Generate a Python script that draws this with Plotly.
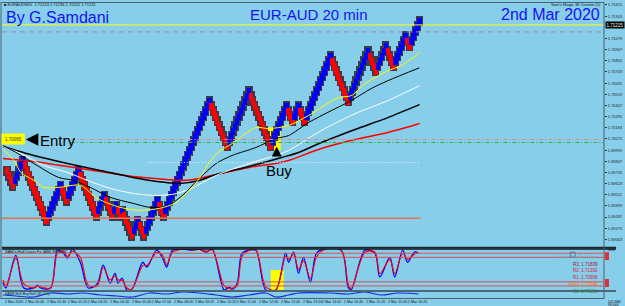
import plotly.graph_objects as go
import numpy as np

# ---------------- data ----------------
brick_size = 0.0005
start_close = 1.69825
# renko runs: signed number of bricks in each swing
runs = [-4, 5, -12, 7, -3, 6, -9, 4, -4, 2, -2, 1, -5, 3, -3, 7, -3, 23,
        -9, 11, -11, 8, -3, 3, -3, 13, -9, 10, -4, 5, -4, 6, -2, 5]
buy_run = 21          # run that ends at the Buy signal
current_price = 1.71215
upper_dash_price = 1.71145
entry_price = 1.70065
entry_green_price = 1.70035
dotted_price = 1.69835
support_price = 1.69275

ma_yellow_x = [-2, 3.5, 7, 13.5, 18.5, 26, 37, 45.5, 57, 67, 77, 84.5, 90.5, 97, 102, 107, 113.5, 125.5, 132, 142, 152, 167, 173.5, 180.5, 192, 198.5, 208]
ma_yellow_y = [1.69965, 1.69855, 1.69735, 1.69655, 1.69585, 1.69585, 1.69605, 1.69475, 1.69385, 1.69355, 1.69375, 1.69425, 1.69525, 1.69675, 1.69835, 1.69945, 1.70025, 1.70185, 1.70175, 1.70205, 1.70305, 1.70485, 1.70505, 1.70625, 1.70755, 1.70805, 1.70935]
ma_black1_x = [-2, 5.5, 13.5, 26, 33.5, 42, 52, 63.5, 72, 80.5, 88.5, 97, 105.5, 113.5, 125.5, 135.5, 142, 152, 163.5, 173.5, 183.5, 192, 208]
ma_black1_y = [1.70005, 1.69925, 1.69825, 1.69685, 1.69655, 1.69585, 1.69485, 1.69425, 1.69385, 1.69395, 1.69505, 1.69675, 1.69825, 1.69905, 1.69985, 1.70075, 1.70105, 1.70235, 1.70355, 1.70455, 1.70575, 1.70655, 1.70785]
ma_white_x = [-2, 7, 18.5, 30.5, 40.5, 52, 63.5, 73.5, 83.5, 92, 105.5, 122, 135.5, 142, 158.5, 175.5, 192, 208]
ma_white_y = [1.69995, 1.69925, 1.69805, 1.69735, 1.69655, 1.69575, 1.69525, 1.69505, 1.69515, 1.69565, 1.69705, 1.69825, 1.69905, 1.69955, 1.70155, 1.70325, 1.70455, 1.70605]
ma_black2_x = [-2, 13.5, 30.5, 47, 63.5, 75.5, 87, 97, 105.5, 122, 138.5, 147, 158.5, 175.5, 192, 208]
ma_black2_y = [1.69995, 1.69905, 1.69825, 1.69755, 1.69685, 1.69645, 1.69625, 1.69655, 1.69715, 1.69795, 1.69885, 1.69935, 1.70035, 1.70165, 1.70285, 1.70415]
ma_red_x = [-2, 13.5, 30.5, 47, 63.5, 80.5, 88.5, 97, 105.5, 122, 135.5, 142, 158.5, 175.5, 192, 208]
ma_red_y = [1.69875, 1.69845, 1.69795, 1.69745, 1.69695, 1.69665, 1.69655, 1.69675, 1.69715, 1.69785, 1.69825, 1.69855, 1.69975, 1.70065, 1.70135, 1.70225]

osc_x = [-2, -0.5, 4.5, 8.5, 13.5, 15.5, 17, 22, 25.5, 28.5, 30.5, 33, 37, 41, 45.5, 48.5, 52, 54.5, 56, 58, 60.5, 63,
         68.5, 70.5, 75.5, 78.5, 80.5, 83.5, 88.5, 93.5, 97, 100.5, 103.5, 109.5, 112, 113.5, 116, 118.5, 122, 125.5,
         130.5, 135.5, 140.5, 142, 144.5, 147, 149.5, 153, 156, 159.5, 168.5, 172, 173.5, 180.5, 185.5, 188, 193,
         195.5, 199.5, 202, 205.5, 207.5]
osc_blue = [19.5, 5, 85, 5, 5, 12, 5, 5, 97.5, 90, 78, 100, 68, 5, 15, 61, 17, 41, 17, 29, 0, 2,
            68, 56, 97.5, 78, 56, 97.5, 100, 97.5, 100, 93, 100, 0, 7, 2, 15, 90, 97.5, 97.5,
            0, 0, 90, 68, 93, 41, 80, 19.5, 90, 100, 97.5, 7, 0, 97.5, 90, 32, 80,
            32, 97.5, 68, 93, 90]
osc_red = [25, 10, 78, 15, 5, 9, 8, 5, 90, 95, 82, 95, 80, 12, 10, 55, 25, 35, 25, 24, 5, 2,
           60, 60, 92, 85, 62, 92, 100, 98, 99, 95, 98, 10, 4, 4, 10, 82, 97, 98,
           8, 0, 82, 75, 88, 50, 72, 28, 80, 98, 98, 15, 3, 92, 93, 40, 75,
           40, 90, 75, 88, 92]
osc_levels = [90, 80, 20, 10]

bottom_x = [-2, 4.5, 13.5, 22, 30.5, 38.5, 47, 55.5, 63.5, 72, 80.5, 88.5, 97, 105.5, 113.5, 122, 130.5, 135.5, 142,
            147, 163.5, 172, 180.5, 188.5, 197, 207.5]
bottom_y = [2, 1, 0, 4, 3, 4, 2, 1, 0, 4, 3, 5, 4, 2, 0, 2, 4, 0, 2, 4, 4, 3, 5, 2, 4, 3]

price_ticks = [1.71415, 1.71303, 1.71079, 1.70967, 1.70855, 1.70743, 1.70631, 1.70519, 1.70407,
               1.70295, 1.70183, 1.70071, 1.69959, 1.69847, 1.69735, 1.69623, 1.69511, 1.69399,
               1.69287, 1.69175, 1.69063]
date_pos = [-2, 8, 19, 30, 40, 51, 62, 72, 83, 94, 105, 115, 126, 137, 148, 158, 169, 180, 191, 201]
date_text = ["2 Mar 2020", "2 Mar 00:40", "2 Mar 01:40", "2 Mar 02:20", "2 Mar 03:20", "2 Mar 04:40",
             "2 Mar 05:40", "2 Mar 07:00", "2 Mar 08:00", "2 Mar 09:20", "2 Mar 10:20", "2 Mar 11:00",
             "2 Mar 12:00", "2 Mar 12:40", "2 Mar 13:20", "2 Mar 14:00", "2 Mar 14:40", "2 Mar 15:20",
             "2 Mar 15:40", "2 Mar 16:20"]
pivot_labels = ["R3: 1.71839", "R2: 1.71392", "R1: 1.70968", "Pivot: 1.70548", "S1: 1.70131"]
pivot_colors = ["#A0102A", "#DC143C", "#DC143C", "#FF6A00", "#2E8B57"]

# ---------------- build renko bricks ----------------
opens, closes = [], []
po, pc = start_close - brick_size, start_close
run_end = []
for r in runs:
    d = 1 if r > 0 else -1
    for _ in range(abs(r)):
        pdir = 1 if pc > po else -1
        o = pc if d == pdir else po
        c = o + d * brick_size
        opens.append(o)
        closes.append(c)
        po, pc = o, c
    run_end.append(len(opens) - 1)
opens = np.array(opens)
closes = np.array(closes)
idx = np.arange(len(opens))
lows = np.minimum(opens, closes)
body_colors = np.where(closes > opens, "#0000FF", "#FF0000")
buy_i = run_end[buy_run - 1]
buy_low = lows[buy_i]
last_i = idx[-1]

# ---------------- geometry helpers ----------------
W, H = 625, 306
ML, MR, MT, MB = 2, 16, 2, 8
PW, PH = W - ML - MR, H - MT - MB


def pxx(x):
    return (x - ML) / PW


def pxy(y):
    return (H - MB - y) / PH


BG = "#87CEEB"
FONT = "Liberation Sans, Arial, sans-serif"

fig = go.Figure()

# renko shadow + bodies
sh_ext = 0.5 * brick_size
bd_ext = 0.2 * brick_size
fig.add_trace(go.Bar(x=idx, y=[brick_size + 2 * sh_ext] * len(idx), base=lows - sh_ext, width=3.6,
                     marker=dict(color="#3a3c4c", line_width=0), xaxis="x", yaxis="y", hoverinfo="skip"))
fig.add_trace(go.Bar(x=idx, y=[brick_size + 2 * bd_ext] * len(idx), base=lows - bd_ext, width=2.3,
                     marker=dict(color=body_colors, line_width=0), xaxis="x", yaxis="y", hoverinfo="skip"))

# moving averages
for xs, ys, col, w in [(ma_red_x, ma_red_y, "#FF0000", 1.5), (ma_black2_x, ma_black2_y, "#000000", 1.5),
                       (ma_white_x, ma_white_y, "#FFFFFF", 1.0), (ma_black1_x, ma_black1_y, "#000000", 1.0),
                       (ma_yellow_x, ma_yellow_y, "#FFFF00", 1.0)]:
    fig.add_trace(go.Scatter(x=xs, y=ys, mode="lines", line=dict(color=col, width=w, shape="spline", smoothing=0.8),
                             xaxis="x", yaxis="y", hoverinfo="skip"))

# oscillator
fig.add_trace(go.Scatter(x=osc_x, y=osc_blue, mode="lines", line=dict(color="#0000FF", width=1.3, shape="spline", smoothing=0.9),
                         xaxis="x", yaxis="y2", hoverinfo="skip"))
fig.add_trace(go.Scatter(x=osc_x, y=osc_red, mode="lines", line=dict(color="#FF0000", width=1.1, shape="spline", smoothing=0.9),
                         xaxis="x", yaxis="y2", hoverinfo="skip"))
# bottom indicator
fig.add_trace(go.Scatter(x=bottom_x, y=bottom_y, mode="lines", line=dict(color="#1A2BE0", width=1.2, shape="spline"),
                         xaxis="x", yaxis="y3", hoverinfo="skip"))

shapes = []
# horizontal levels main
shapes.append(dict(type="line", xref="paper", yref="y", x0=0, x1=1, y0=current_price, y1=current_price,
                   line=dict(color="#FFFF00", width=1)))
shapes.append(dict(type="line", xref="paper", yref="y", x0=0, x1=1, y0=upper_dash_price, y1=upper_dash_price,
                   line=dict(color="#9C8AA5", width=1, dash="5px,4px")))
shapes.append(dict(type="line", xref="x", yref="y", x0=32.5, x1=301, y0=entry_price, y1=entry_price,
                   line=dict(color="#D8907C", width=1, dash="4px,2px,1px,2px")))
shapes.append(dict(type="line", xref="x", yref="y", x0=32.5, x1=301, y0=entry_green_price, y1=entry_green_price,
                   line=dict(color="#3DAA3D", width=1, dash="4px,2px,1px,2px")))
shapes.append(dict(type="line", xref="x", yref="y", x0=71, x1=last_i + 0.5, y0=dotted_price, y1=dotted_price,
                   line=dict(color="#E8F4FA", width=1, dash="1px,2px")))
shapes.append(dict(type="line", xref="x", yref="y", x0=-2.5, x1=last_i + 0.5, y0=support_price, y1=support_price,
                   line=dict(color="#F07050", width=1.5)))
# buy highlight (main)
shapes.append(dict(type="rect", xref="x", yref="y", x0=buy_i - 1.5, x1=buy_i + 5, y0=buy_low - 0.0002,
                   y1=buy_low + 0.0021, fillcolor="#FFFF00", line_width=0, layer="below"))
# oscillator levels
for lv in osc_levels:
    shapes.append(dict(type="line", xref="paper", yref="y2", x0=0, x1=1, y0=lv, y1=lv,
                       line=dict(color="#D85050", width=1)))
shapes.append(dict(type="rect", xref="x", yref="y2", x0=buy_i, x1=buy_i + 6.5, y0=0, y1=49,
                   fillcolor="#FFFF00", line_width=0, layer="below"))
# panel separators / borders
shapes.append(dict(type="line", xref="paper", yref="paper", x0=0, x1=1.02, y0=pxy(247.5), y1=pxy(247.5),
                   line=dict(color="#1c2630", width=2)))
shapes.append(dict(type="line", xref="paper", yref="paper", x0=0, x1=1.02, y0=pxy(249), y1=pxy(249),
                   line=dict(color="#000000", width=1)))
shapes.append(dict(type="line", xref="paper", yref="paper", x0=0, x1=1.02, y0=pxy(291), y1=pxy(291),
                   line=dict(color="#4F6575", width=2)))
shapes.append(dict(type="line", xref="paper", yref="paper", x0=1, x1=1, y0=pxy(299), y1=pxy(1),
                   line=dict(color="#4A6070", width=1)))
shapes.append(dict(type="line", xref="paper", yref="paper", x0=pxx(1), x1=pxx(1), y0=pxy(299), y1=pxy(1),
                   line=dict(color="#4A6070", width=1)))
shapes.append(dict(type="line", xref="paper", yref="paper", x0=pxx(1), x1=1, y0=pxy(1.5), y1=pxy(1.5),
                   line=dict(color="#4A6070", width=1)))
shapes.append(dict(type="line", xref="paper", yref="paper", x0=pxx(1), x1=1, y0=pxy(298.5), y1=pxy(298.5),
                   line=dict(color="#4A6070", width=1)))
# entry label box
shapes.append(dict(type="rect", xref="paper", yref="paper", x0=pxx(1.5), x1=pxx(25), y0=pxy(144), y1=pxy(133),
                   fillcolor="#FFFF00", line_width=0))
# right axis red markers in oscillator
shapes.append(dict(type="rect", xref="paper", yref="paper", x0=pxx(610), x1=pxx(614), y0=pxy(260), y1=pxy(252),
                   fillcolor="#E03030", line_width=0))
shapes.append(dict(type="rect", xref="paper", yref="paper", x0=pxx(610), x1=pxx(614), y0=pxy(287), y1=pxy(279),
                   fillcolor="#E03030", line_width=0))
shapes.append(dict(type="rect", xref="paper", yref="paper", x0=pxx(575), x1=pxx(580), y0=pxy(257), y1=pxy(252),
                   line=dict(color="#5A7AA0", width=1)))

ann = []


def txt(x, y, s, size, color="#111111", xanchor="left", yanchor="middle", **kw):
    ann.append(dict(x=pxx(x), y=pxy(y), xref="paper", yref="paper", text=s, showarrow=False,
                    font=dict(family=FONT, size=size, color=color), xanchor=xanchor, yanchor=yanchor, **kw))


txt(4, 16.5, "By G.Samdani", 16, "#1414F0")
txt(312, 13.5, "EUR-AUD 20 min", 15, "#1414F0", xanchor="center")
txt(607, 13.5, "2nd Mar 2020", 16, "#1414F0", xanchor="right")
txt(2, 3.5, "■ EURAUDM20  1.71224 1.71236 1.71202 1.71215", 4)
txt(608, 3.5, "Sam's Magic 36 Custom (5)", 4, xanchor="right")
txt(3, 138.5, "1.70065", 4.5, "#333300")
txt(38, 139.5, "Entry", 15, "#000000")
txt(281, 170.5, "Buy", 15, "#000000", xanchor="center")
txt(3, 251.5, "SAM's Hull Cross Fx (AM) 88.6632", 4)
txt(3, 293.5, "SAM3 Hull-Buy/Sell (30,120)", 3.5)
txt(605, 256, "Sam's Buy/Sell Pivots", 4, "#8899AA", xanchor="right")
for k, (s, c) in enumerate(zip(pivot_labels, pivot_colors)):
    txt(605, 264 + 6.8 * k, s, 4.5, c, xanchor="right")
txt(611, 249.5, "100", 4)
txt(611, 302, "101.886", 3.5)
txt(611, 305, "90.044", 3.5)

# current price box on right axis
ann.append(dict(x=pxx(610), y=current_price, xref="paper", yref="y", text="1.71215", showarrow=False,
                font=dict(family=FONT, size=4.5, color="#FFFFFF"), bgcolor="#000000", borderpad=0.5,
                xanchor="left", yanchor="middle"))
# date labels
for p, s in zip(date_pos, date_text):
    ann.append(dict(x=p, y=pxy(302), xref="x", yref="paper", text=s, showarrow=False,
                    font=dict(family=FONT, size=3.6, color="#111111"), xanchor="left", yanchor="middle"))
# entry arrow
ann.append(dict(x=pxx(26), y=entry_price, xref="paper", yref="y", ax=11, ay=0, text="", showarrow=True,
                arrowhead=2, arrowsize=1.0, arrowwidth=2.5, arrowcolor="#000000"))
# buy arrow
ann.append(dict(x=buy_i + 3, y=buy_low + 0.0002, xref="x", yref="y", ax=0, ay=11, text="", showarrow=True,
                arrowhead=2, arrowsize=1.0, arrowwidth=2, arrowcolor="#000000"))

fig.update_layout(
    width=W, height=H, margin=dict(l=ML, r=MR, t=MT, b=MB),
    paper_bgcolor=BG, plot_bgcolor=BG, showlegend=False, barmode="overlay", bargap=0,
    font=dict(family=FONT),
    xaxis=dict(range=[-2.5, 301], showgrid=False, zeroline=False, showticklabels=False, ticks="",
               anchor="y3", fixedrange=True),
    yaxis=dict(domain=[pxy(247), 1.0], range=[1.68985, 1.71435], side="right", anchor="x",
               tickvals=price_ticks, ticktext=["%.5f" % v for v in price_ticks],
               tickfont=dict(size=4, color="#222222", family=FONT), ticks="outside", ticklen=2,
               tickcolor="#333333", showgrid=False, zeroline=False),
    yaxis2=dict(domain=[pxy(290), pxy(249)], range=[0, 100], anchor="x", side="right",
                showticklabels=False, showgrid=False, zeroline=False),
    yaxis3=dict(domain=[0, pxy(292)], range=[-1, 5], anchor="x", side="right",
                showticklabels=False, showgrid=False, zeroline=False),
    shapes=shapes, annotations=ann,
)

fig.write_html("out.html", config={"displayModeBar": False})
